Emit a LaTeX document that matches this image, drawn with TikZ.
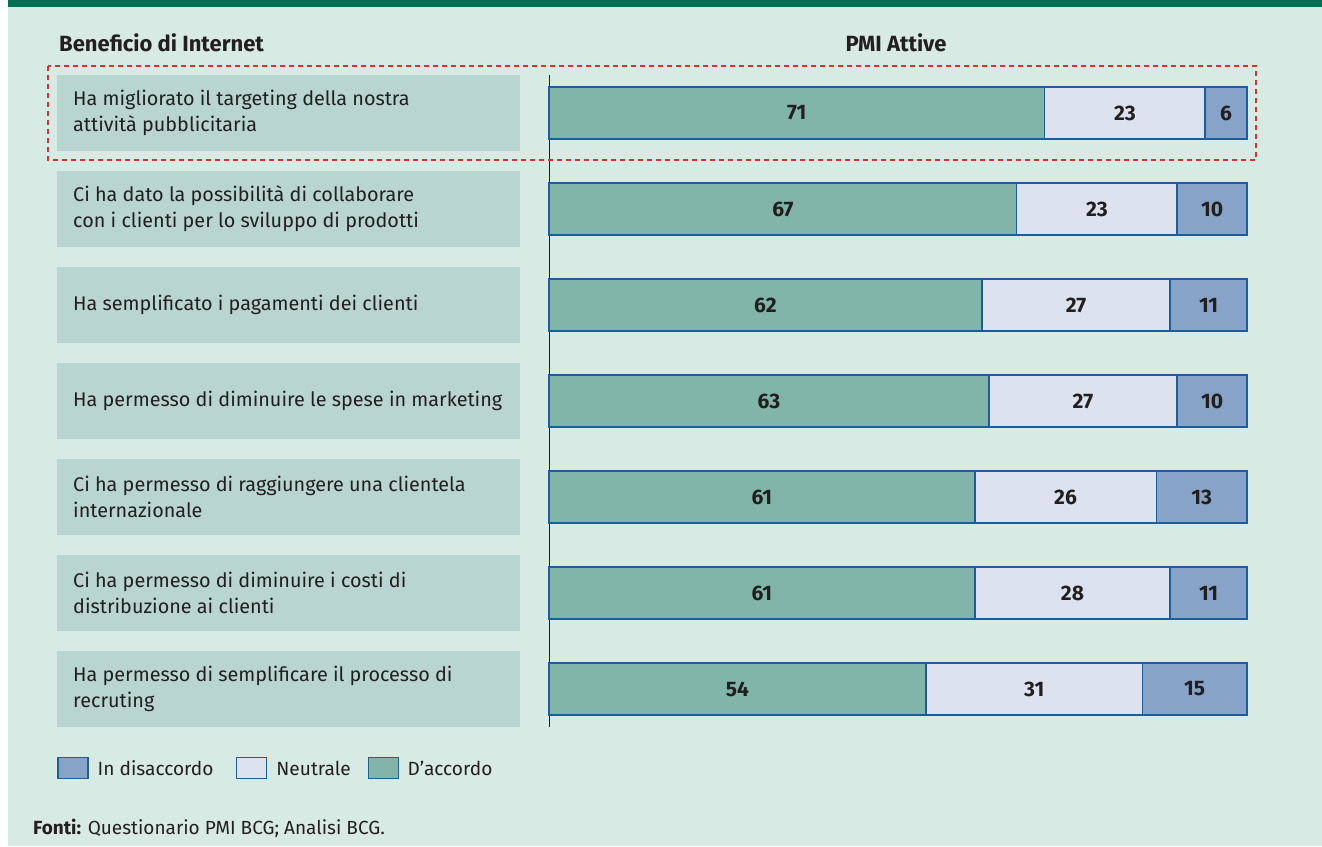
\documentclass[tikz,border=0pt]{standalone}
\usepackage{fontspec}
\setmainfont{Fira Sans}
\usetikzlibrary{positioning}

\definecolor{bcggreen}{HTML}{006F53}
\definecolor{panel}{HTML}{D8EAE4}
\definecolor{labelbg}{HTML}{B8D6CF}
\definecolor{agreecol}{HTML}{81B5A8}
\definecolor{neutralcol}{HTML}{DCE3EE}
\definecolor{disagreecol}{HTML}{87A3C7}
\definecolor{barline}{HTML}{1D5E96}
\definecolor{hilite}{HTML}{D9322B}
\definecolor{ink}{HTML}{231F20}

\tikzset{
  lbl/.style={fill=labelbg, minimum width=463pt, minimum height=76pt, anchor=north west, inner sep=0pt},
  lbltext/.style={anchor=west, align=left, inner sep=0pt, text=ink, font=\fontsize{19.8}{26}\selectfont},
  head/.style={anchor=base west, inner sep=0pt, text=ink, font=\bfseries\fontsize{22}{24}\selectfont},
  seg/.style={draw=barline, line width=1.5pt, minimum height=52pt, inner sep=0pt, outer sep=0pt,
    anchor=west, text=ink, font=\bfseries\fontsize{21}{22}\selectfont},
  key/.style={draw=barline, line width=1.5pt, minimum width=30pt, minimum height=21pt, inner sep=0pt},
  keytext/.style={inner sep=0pt, text=ink, font=\fontsize{19.1}{22}\selectfont},
}

\begin{document}
\begin{tikzpicture}[x=1pt, y=-1pt]
\useasboundingbox (0,0) rectangle (1322,846);
\fill[white] (0,0) rectangle (1322,846);
\fill[panel] (8,0) rectangle (1322,846);
\fill[bcggreen] (8,0) rectangle (1322,7);

% headings
\node[head] (hbenefit) at (59,51) {Beneficio di Internet};
\node[head, anchor=base] (hpmi) at (896,51) {PMI Attive};

% axis
\coordinate (axistop) at (549,75);
\coordinate (axisbot) at (549,727);
\draw[ink, line width=1pt] (axistop) -- (axisbot);

% rows: label, agree / neutral / disagree
\foreach \i/\txt/\a/\n/\d in {
  1/{Ha migliorato il targeting della nostra\\attività pubblicitaria}/71/23/6,
  2/{Ci ha dato la possibilità di collaborare\\con i clienti per lo sviluppo di prodotti}/67/23/10,
  3/{Ha semplificato i pagamenti dei clienti}/62/27/11,
  4/{Ha permesso di diminuire le spese in marketing}/63/27/10,
  5/{Ci ha permesso di raggiungere una clientela\\internazionale}/61/26/13,
  6/{Ci ha permesso di diminuire i costi di\\distribuzione ai clienti}/61/28/11,
  7/{Ha permesso di semplificare il processo di\\recruting}/54/31/15}
{
  \pgfmathsetmacro\rowtop{75+96*(\i-1)}
  \node[lbl] (box\i) at (57,\rowtop) {};
  \node[lbltext] (txt\i) at (73,\rowtop+38) {\txt};
  \node[seg, fill=agreecol, minimum width=\a*6.98pt] (agree\i) at (549,\rowtop+38) {\a};
  \node[seg, fill=neutralcol, minimum width=\n*6.98pt] (neutral\i) at (agree\i.east) {\n};
  \node[seg, fill=disagreecol, minimum width=\d*6.98pt] (dis\i) at (neutral\i.east) {\d};
}

% highlight of first row
\draw[hilite, line width=1.5pt, dash pattern=on 5pt off 4pt] (48,66) rectangle (1256,160);

% legend
\node[key, fill=disagreecol, anchor=west] (k1) at (57,768) {};
\node[keytext, right=9pt of k1] (k1t) {In disaccordo};
\node[key, fill=neutralcol, right=22pt of k1t] (k2) {};
\node[keytext, right=9pt of k2] (k2t) {Neutrale};
\node[key, fill=agreecol, right=17pt of k2t] (k3) {};
\node[keytext, right=8pt of k3] (k3t) {D’accordo};

% source
\node[anchor=base west, inner sep=0pt, text=ink, font=\fontsize{19}{22}\selectfont] (src) at (33,834)
  {\textbf{Fonti:} Questionario PMI BCG; Analisi BCG.};
\end{tikzpicture}
\end{document}
